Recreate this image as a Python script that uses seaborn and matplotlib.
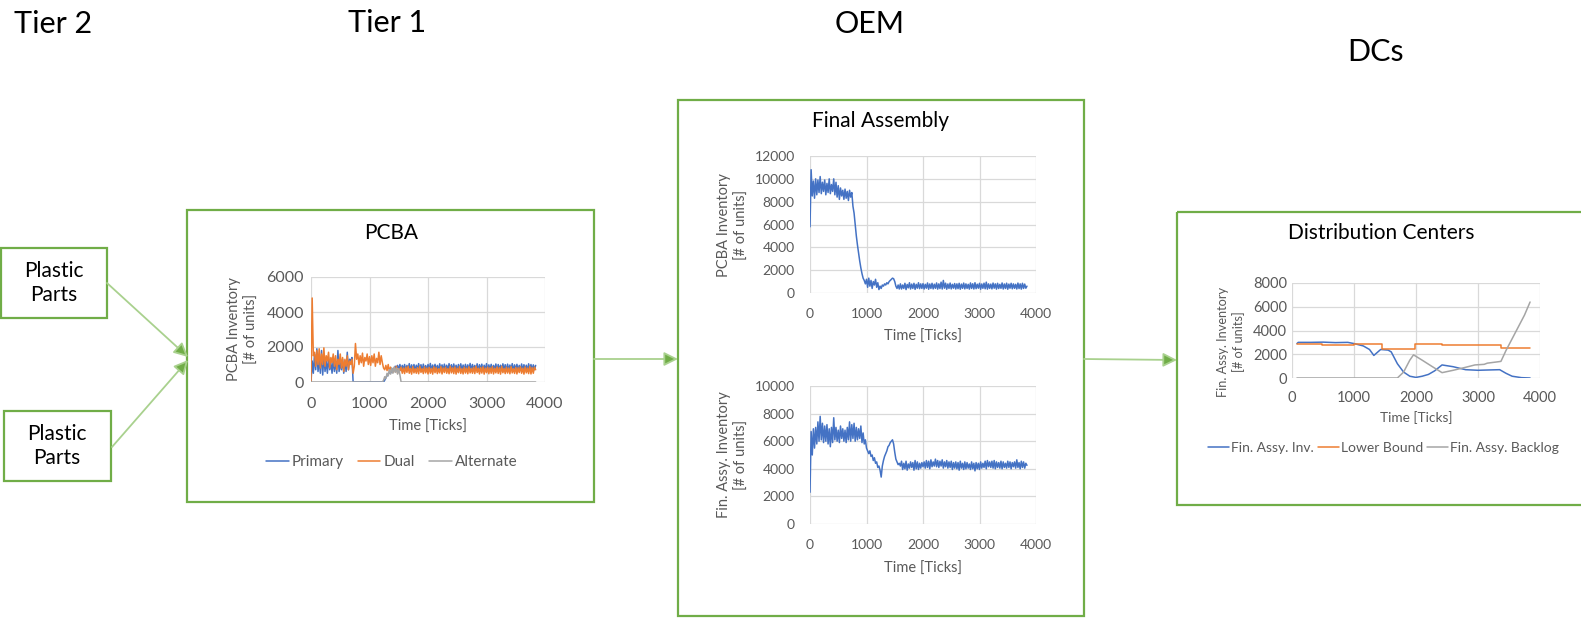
import numpy as np
import pandas as pd
import matplotlib
matplotlib.use("Agg")
import matplotlib.pyplot as plt
from matplotlib.patches import Rectangle
import seaborn as sns

# ---------------- data ----------------
TICK_STEP = 20
ticks = list(range(0, 3841, TICK_STEP))  # 193 sample times

pcba_dual = [0, 4800, 1500, 1700, 900, 1800, 1000, 1900, 800, 1600,
             1000, 1950, 900, 1500, 1200, 1700, 800, 1400, 1100, 1600,
             900, 1500, 700, 1300, 1000, 1600, 800, 1400, 600, 1300,
             900, 1500, 700, 1200, 1000, 1300, 500, 900, 2200, 1300,
             1600, 1000, 1500, 1100, 1650, 900, 1400, 1200, 1600, 1000,
             1450, 950, 1500, 1100, 1600, 900, 1350, 1100, 1700, 1000,
             1500, 1100, 800, 700, 950, 650, 1000, 600, 850, 700,
             550, 800, 600, 900, 500, 750, 650, 850, 500, 800,
             480, 850, 550, 900, 500, 780, 450, 880, 520, 760,
             500, 820, 470, 900, 550, 760, 480, 860, 520, 800,
             460, 840, 500, 780, 450, 870, 530, 820, 480, 760,
             520, 880, 460, 800, 540, 850, 500, 770, 470, 900,
             520, 810, 480, 860, 450, 790, 530, 880, 490, 760,
             460, 850, 510, 800, 470, 870, 520, 780, 500, 840,
             480, 900, 540, 790, 460, 830, 510, 870, 450, 800,
             530, 850, 470, 810, 500, 880, 460, 790, 520, 860,
             490, 820, 450, 900, 530, 770, 480, 850, 510, 800,
             470, 880, 520, 760, 490, 840, 460, 810, 540, 870,
             500, 790, 450, 860, 520, 800, 480, 890, 460, 820,
             500, 850, 700]

pcba_primary = [0, 1200, 500, 1600, 700, 1900, 600, 1300, 500, 1800,
                400, 1500, 600, 1200, 500, 1400, 700, 1100, 500, 1300,
                600, 1200, 500, 1800, 600, 1100, 700, 1300, 500, 1200,
                600, 1700, 700, 1300, 1200, 1400, 0, 0, 0, 0,
                0, 0, 0, 0, 0, 0, 0, 0, 0, 0,
                0, 0, 0, 0, 0, 0, 0, 0, 0, 0,
                0, 0, 0, 100, 250, 350, 450, 550, 500, 650,
                750, 700, 900, 800, 950, 700, 1000, 650, 950, 700,
                1000, 650, 950, 700, 1050, 620, 980, 680, 1000, 640,
                960, 700, 1050, 660, 990, 620, 1020, 700, 940, 650,
                1000, 680, 1060, 640, 970, 700, 1010, 660, 950, 620,
                1040, 690, 980, 650, 1020, 700, 960, 640, 1050, 680,
                990, 650, 1030, 700, 960, 620, 1000, 680, 1040, 660,
                970, 700, 1010, 640, 980, 690, 1060, 650, 1000, 700,
                950, 660, 1040, 620, 990, 700, 1020, 650, 960, 680,
                1050, 640, 980, 700, 1010, 660, 950, 690, 1030, 620,
                1000, 680, 960, 650, 1040, 700, 990, 640, 1020, 670,
                970, 690, 1050, 630, 980, 700, 1010, 660, 950, 680,
                1030, 650, 990, 700, 960, 620, 1040, 680, 1000, 660,
                980, 700, 950]

pcba_alternate = ([0] * 62
                  + [100, 300, 200, 500, 350, 700, 450, 800, 500, 850,
                     550, 800, 450, 750, 400, 0]
                  + [0] * 115)

fa_pcba_inv = [5800, 10800, 8500, 9800, 8300, 10000, 8600, 9900, 8800, 10200,
               8700, 9700, 8900, 9900, 8600, 9600, 8800, 10000, 8700, 9500,
               8900, 10000, 8600, 9700, 8400, 9400, 8200, 9200, 8500, 9000,
               8200, 9100, 8300, 8900, 8100, 9000, 8400, 8800, 7600, 7000,
               6000, 5000, 4200, 3500, 2800, 2200, 1700, 1300, 1100, 800,
               1200, 500, 1300, 600, 1100, 400, 1000, 700, 1200, 500,
               900, 300, 600, 400, 700, 600, 800, 700, 900, 800,
               1000, 1100, 1200, 1300, 1250, 1000, 600, 400, 700, 350,
               800, 350, 700, 400, 850, 300, 750, 450, 900, 350,
               780, 400, 850, 320, 760, 420, 900, 380, 800, 400,
               820, 350, 760, 420, 880, 330, 790, 400, 850, 360,
               770, 410, 880, 340, 800, 390, 950, 350, 1100, 420,
               860, 330, 790, 400, 870, 360, 760, 420, 830, 350,
               800, 380, 850, 330, 780, 410, 870, 360, 800, 400,
               760, 340, 880, 400, 810, 350, 900, 380, 770, 420,
               850, 330, 790, 410, 860, 370, 950, 340, 800, 400,
               780, 360, 870, 420, 800, 340, 850, 390, 760, 410,
               880, 350, 790, 400, 860, 330, 780, 420, 850, 370,
               800, 410, 760, 350, 870, 390, 800, 340, 850, 400,
               780, 420, 600]

fa_fin_inv = [2300, 6700, 5000, 6900, 5500, 7000, 5800, 7400, 6000, 7800,
              6100, 7300, 5900, 7100, 6000, 7200, 5800, 6900, 5600, 7000,
              5900, 7700, 6100, 7000, 6000, 6800, 5900, 7100, 6200, 6900,
              6000, 6800, 5900, 7000, 6100, 7400, 6000, 7200, 6200, 7300,
              6000, 7000, 6100, 6900, 6200, 7100, 5900, 6600, 5800, 6100,
              5500, 5300, 5100, 5300, 4900, 5000, 4600, 4800, 4400, 4500,
              4100, 4200, 3900, 3400, 4200, 4600, 4900, 5100, 5300, 5600,
              5700, 5900, 6000, 6100, 5800, 5200, 4700, 4500, 4300, 4400,
              4200, 4550, 3950, 4400, 4000, 4550, 3900, 4350, 4050, 4500,
              4100, 4450, 3900, 4600, 4000, 4500, 3950, 4400, 4050, 4450,
              4150, 4500, 4050, 4600, 4100, 4550, 4000, 4650, 4150, 4500,
              4200, 4700, 4150, 4600, 4100, 4550, 4200, 4650, 4050, 4500,
              4150, 4600, 4050, 4500, 4100, 4550, 3950, 4450, 4050, 4500,
              4000, 4450, 3900, 4550, 4050, 4400, 3950, 4500, 4000, 4450,
              4050, 4350, 3950, 4500, 4000, 4400, 3850, 4450, 4000, 4400,
              3950, 4500, 4050, 4400, 4100, 4550, 4000, 4600, 4150, 4500,
              4100, 4550, 4050, 4600, 4000, 4500, 4100, 4450, 4050, 4550,
              4000, 4500, 4100, 4400, 4050, 4550, 4100, 4500, 4000, 4450,
              4150, 4500, 4050, 4650, 4100, 4450, 4000, 4550, 4100, 4500,
              4050, 4400, 4250]

dc_inv_t = [80, 100, 300, 500, 700, 900, 1000, 1150, 1250, 1320, 1430, 1550,
            1600, 1700, 1800, 1900, 2000, 2100, 2200, 2300, 2420, 2600, 2800,
            3000, 3200, 3350, 3450, 3550, 3700, 3840]
dc_inv = [2900, 3000, 3000, 3020, 2980, 3000, 2900, 2700, 2400, 1900, 2400, 2350,
          2200, 1200, 500, 150, 50, 150, 300, 600, 1100, 950, 700,
          650, 680, 700, 400, 150, 30, 0]
dc_lb_t = [80, 480, 1000, 1450, 1980, 2420, 2900, 3370, 3840]
dc_lb = [2850, 2750, 2850, 2450, 2850, 2750, 2800, 2500, 2500]
dc_backlog_t = [80, 1700, 1800, 1900, 1960, 2100, 2250, 2420, 2600, 2800, 2950,
                3100, 3150, 3300, 3370, 3450, 3550, 3650, 3750, 3840]
dc_backlog = [0, 0, 500, 1500, 1950, 1500, 1000, 450, 650, 900, 1100,
              1150, 1250, 1350, 1400, 2300, 3300, 4300, 5300, 6400]

x_ticks = [0, 1000, 2000, 3000, 4000]
header_labels = ["Tier 2", "Tier 1", "OEM", "DCs"]

# ---------------- style ----------------
sns.set_theme(style="white")
plt.rcParams["font.family"] = ["Lato", "DejaVu Sans"]

BLUE, ORANGE, GREY = "#4472C4", "#ED7D31", "#A5A5A5"
TXT = "#595959"
GRID = "#D9D9D9"
GREEN = "#70AD47"
LGREEN = "#A9D18E"

W, H = 1581, 618
fig = plt.figure(figsize=(W / 100, H / 100), dpi=100)

# background axes in pixel coordinates (y downwards)
bg = fig.add_axes([0, 0, 1, 1])
bg.set_xlim(0, W)
bg.set_ylim(H, 0)
bg.axis("off")

def box(x0, y0, x1, y1):
    bg.add_patch(Rectangle((x0, y0), x1 - x0, y1 - y0, fill=False,
                           ec=GREEN, lw=1.6, zorder=1))

def arrow(x0, y0, x1, y1):
    bg.annotate("", xy=(x1, y1), xytext=(x0, y0),
                arrowprops=dict(arrowstyle="-|>,head_length=0.7,head_width=0.35",
                                ec=LGREEN, fc=GREEN, lw=1.3,
                                shrinkA=0, shrinkB=0))

box(1, 248, 107, 318)
box(4, 411, 111, 481)
box(187, 210, 594, 502)
box(678, 100, 1084, 616)
box(1177, 212, 1600, 505)

arrow(107, 283, 188, 357)
arrow(112, 447, 188, 360)
arrow(594, 359, 678, 359)
arrow(1084, 359, 1177, 360)

for lab, (cx, cy) in zip(header_labels, [(53, 24), (387, 23), (870, 24), (1376, 52)]):
    bg.text(cx, cy, lab, ha="center", va="center", fontsize=22, color="black")

for cx, cy in [(54, 283), (57, 446)]:
    bg.text(cx, cy, "Plastic\nParts", ha="center", va="center", fontsize=15,
            color="black", linespacing=1.25)

bg.text(391, 233, "PCBA", ha="center", va="center", fontsize=15, color="black")
bg.text(880, 121, "Final Assembly", ha="center", va="center", fontsize=15, color="black")
bg.text(1381, 233, "Distribution Centers", ha="center", va="center", fontsize=15, color="black")


def make_ax(l, t, r, b, ymax, ystep, tick_fs, xpad, ypad):
    ax = fig.add_axes([l / W, 1 - b / H, (r - l) / W, (b - t) / H])
    ax.set_facecolor("none")
    ax.set_xlim(0, 4000)
    ax.set_ylim(0, ymax)
    ax.set_xticks(x_ticks)
    ax.set_yticks(list(range(0, ymax + 1, ystep)))
    ax.grid(True, color=GRID, lw=0.9)
    ax.set_axisbelow(True)
    for s in ax.spines.values():
        s.set_visible(False)
    ax.tick_params(axis="both", length=0, labelsize=tick_fs, labelcolor=TXT)
    ax.tick_params(axis="x", pad=xpad)
    ax.tick_params(axis="y", pad=ypad)
    return ax


def labels(ax, box_px, xl_px, yl_px, xlabel, ylabel, fs_x, fs_y):
    l, t, r, b = box_px
    ax.set_xlabel(xlabel, fontsize=fs_x, color=TXT)
    ax.xaxis.set_label_coords((xl_px[0] - l) / (r - l), (b - xl_px[1]) / (b - t))
    ax.xaxis.label.set_va("center")
    ax.set_ylabel(ylabel, fontsize=fs_y, color=TXT, linespacing=1.3)
    ax.yaxis.set_label_coords((yl_px[0] - l) / (r - l), (b - yl_px[1]) / (b - t))
    ax.yaxis.label.set_va("center")


LW = 1.1

# ---------------- PCBA ----------------
pb = (311, 277, 545, 382)
ax1 = make_ax(*pb, 6000, 2000, 11.5, 11, 5)
sns.lineplot(x=ticks, y=pcba_primary, ax=ax1, color=BLUE, lw=LW, label="Primary")
sns.lineplot(x=ticks, y=pcba_dual, ax=ax1, color=ORANGE, lw=LW, label="Dual")
sns.lineplot(x=ticks, y=pcba_alternate, ax=ax1, color=GREY, lw=LW, label="Alternate")
labels(ax1, pb, (428, 427), (243, 329), "Time [Ticks]", "PCBA Inventory\n[# of units]", 10.5, 10.5)
ax1.legend(loc="center", bbox_to_anchor=((391.5 - pb[0]) / (pb[2] - pb[0]), (pb[3] - 462) / (pb[3] - pb[1])),
           ncol=3, frameon=False, fontsize=11, handlelength=1.5, handletextpad=0.2,
           columnspacing=0.9, labelcolor=TXT)

# ---------------- Final assembly, PCBA inventory ----------------
fb1 = (810, 156, 1036, 293)
ax2 = make_ax(*fb1, 12000, 2000, 10, 11, 11)
sns.lineplot(x=ticks, y=fa_pcba_inv, ax=ax2, color=BLUE, lw=LW)
labels(ax2, fb1, (923, 337), (733, 225), "Time [Ticks]", "PCBA Inventory\n[# of units]", 10.5, 10.5)

# ---------------- Final assembly, fin. assy inventory ----------------
fb2 = (810, 386, 1036, 524)
ax3 = make_ax(*fb2, 10000, 2000, 10, 11, 11)
sns.lineplot(x=ticks, y=fa_fin_inv, ax=ax3, color=BLUE, lw=LW)
labels(ax3, fb2, (923, 569), (733, 455), "Time [Ticks]", "Fin. Assy. Inventory\n[# of units]", 10.5, 10.5)

# ---------------- Distribution centers ----------------
db = (1292, 283, 1540, 378)
ax4 = make_ax(*db, 8000, 2000, 10.5, 9.5, 3.5)
sns.lineplot(x=dc_inv_t, y=dc_inv, ax=ax4, color=BLUE, lw=LW, label="Fin. Assy. Inv.")
sns.lineplot(x=dc_lb_t, y=dc_lb, ax=ax4, color=ORANGE, lw=LW, label="Lower Bound",
             drawstyle="steps-post")
sns.lineplot(x=dc_backlog_t, y=dc_backlog, ax=ax4, color=GREY, lw=LW, label="Fin. Assy. Backlog")
labels(ax4, db, (1416, 418), (1231, 342), "Time [Ticks]", "Fin. Assy. Inventory\n[# of units]", 9.8, 9.2)
ax4.legend(loc="center", bbox_to_anchor=((1383.5 - db[0]) / (db[2] - db[0]), (db[3] - 448) / (db[3] - db[1])),
           ncol=3, frameon=False, fontsize=10, handlelength=1.5, handletextpad=0.15,
           columnspacing=0.3, labelcolor=TXT)

fig.savefig("out.png", dpi=100)
